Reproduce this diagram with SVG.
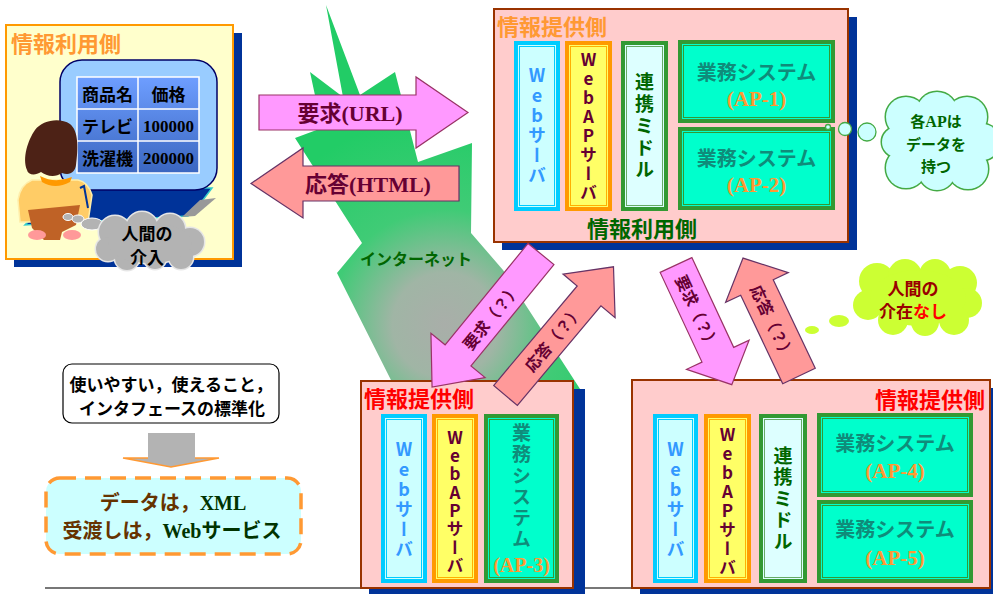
<svg xmlns="http://www.w3.org/2000/svg" width="993" height="594" viewBox="0 0 993 594">
<defs>
<style>
.jp{font-family:"Noto Sans CJK JP","Noto Sans",sans-serif;font-weight:bold}
.sf{font-family:"Liberation Serif",serif;font-weight:bold}
.vt{writing-mode:vertical-rl;text-orientation:upright;text-anchor:middle;font-family:"Noto Sans CJK JP",sans-serif;font-weight:bold}
.mid{text-anchor:middle}
.panel{fill:#FFCCCC;stroke:#993300;stroke-width:2}
.shadow{fill:#003399}
.web-o{fill:#CCFFFF;stroke:#00CCFF;stroke-width:4}
.web-i{fill:none;stroke:#00CCFF;stroke-width:1}
.ap-o{fill:#FFFF66;stroke:#FF9900;stroke-width:4}
.ap-i{fill:none;stroke:#FFB000;stroke-width:1}
.mw-o{fill:#DDFFFF;stroke:#339933;stroke-width:4}
.mw-i{fill:none;stroke:#66AA66;stroke-width:1}
.sys-o{fill:#00FFCC;stroke:#339933;stroke-width:4}
.sys-i{fill:none;stroke:#339933;stroke-width:1}
.t-web{fill:#3399FF}
.t-ap{fill:#660033}
.t-mw{fill:#006600}
.t-sys{fill:#0F8C7A}
.t-apn{fill:#FF9933}
.req{fill:#FF99FF;stroke:#993366;stroke-width:1.2}
.res{fill:#FF9999;stroke:#663366;stroke-width:1.2}
.lbl{fill:#660033}
</style>
<radialGradient id="netGrad" gradientUnits="userSpaceOnUse" cx="445" cy="325" r="210">
<stop offset="0" stop-color="#A9AEA9"/>
<stop offset="0.25" stop-color="#A0B5A5"/>
<stop offset="0.55" stop-color="#40CB76"/>
<stop offset="1" stop-color="#22CC66"/>
</radialGradient>
<linearGradient id="tblGrad" x1="0" y1="0" x2="0" y2="1">
<stop offset="0" stop-color="#6E9EFF"/>
<stop offset="1" stop-color="#3A66C0"/>
</linearGradient>
<g id="cloudData">
<circle cx="906" cy="117" r="20"/><circle cx="937" cy="112" r="20"/><circle cx="967" cy="117" r="20"/>
<circle cx="982" cy="142" r="18"/><circle cx="968" cy="169" r="20"/><circle cx="937" cy="172" r="18"/>
<circle cx="906" cy="168" r="20"/><circle cx="897" cy="142" r="15"/><ellipse cx="938" cy="142" rx="42" ry="38"/>
</g>
<g id="cloudNone">
<circle cx="877" cy="281" r="18"/><circle cx="905" cy="276" r="17"/><circle cx="935" cy="275" r="16"/>
<circle cx="960" cy="283" r="17"/><circle cx="967" cy="303" r="15"/><circle cx="954" cy="320" r="15"/>
<circle cx="925" cy="322" r="14"/><circle cx="893" cy="320" r="15"/><circle cx="868" cy="305" r="15"/>
<ellipse cx="918" cy="298" rx="48" ry="28"/>
</g>
<g id="cloudHuman">
<circle cx="115" cy="232" r="16"/><circle cx="142" cy="228" r="16"/><circle cx="170" cy="229" r="15"/>
<circle cx="190" cy="242" r="14"/><circle cx="181" cy="257" r="12"/><circle cx="155" cy="258" r="11"/>
<circle cx="127" cy="258" r="12"/><circle cx="108" cy="249" r="12"/><ellipse cx="150" cy="243" rx="42" ry="20"/>
</g>
</defs>

<rect width="993" height="594" fill="#FFFFFF"/>

<!-- internet burst -->
<g id="internet">
<polygon points="326,5 360,95 395,72 418,162 472,143 471,233 503,270 582,392 397,392 337,273 362,243 295,138 322,128 310,72 343,97" fill="url(#netGrad)"/>
<text class="jp" x="360" y="265" font-size="16" fill="#006600">インターネット</text>
</g>

<line x1="45" y1="588" x2="993" y2="588" stroke="#777777" stroke-width="2"/>

<!-- user side -->
<g id="user-side">
<rect class="shadow" x="14" y="33" width="228" height="234"/>
<rect x="6" y="25" width="227" height="234" fill="#FFFFCC" stroke="#FF9900" stroke-width="2"/>
<text class="jp" x="11" y="52" font-size="22" fill="#FF9933">情報利用側</text>
<polygon points="60,188 212,188 200,204 188,216 25,225 45,205" fill="#003399" stroke="#33CCCC" stroke-width="1.5"/>
<polygon points="200,200 216,198 195,216 182,217" fill="#999999"/>
<rect x="60" y="60" width="157" height="130" rx="22" fill="#99CCFF" stroke="#000066" stroke-width="1.5"/>
<rect x="77" y="77" width="122" height="96" fill="url(#tblGrad)"/>
<g stroke="#FFFFFF" stroke-width="1.5" fill="none">
<rect x="77" y="77" width="122" height="96"/>
<line x1="77" y1="109" x2="199" y2="109"/><line x1="77" y1="141" x2="199" y2="141"/>
<line x1="138" y1="77" x2="138" y2="173"/>
</g>
<g fill="#000000" font-size="17">
<text class="jp mid" x="107.5" y="101">商品名</text>
<text class="jp mid" x="168.5" y="101">価格</text>
<text class="jp mid" x="107.5" y="133">テレビ</text>
<text class="sf mid" x="168.5" y="132">100000</text>
<text class="jp mid" x="107.5" y="165">洗濯機</text>
<text class="sf mid" x="168.5" y="164">200000</text>
</g>
<!-- seated figure -->
<path d="M32,180 Q20,185 18,200 L20,222 L88,222 L92,195 Q88,182 78,180 Z" fill="#FFCC66" stroke="#FFEEAA" stroke-width="1.5"/>
<path d="M27,170 C22,158 28,140 35,130 C42,120 60,117 70,124 C79,131 78,150 76,165 C75,172 70,176 62,173 C55,178 46,176 41,172 C35,176 28,175 27,170 Z" fill="#4D2216"/>
<path d="M40,176 Q55,184 72,177 L70,182 Q55,190 42,182 Z" fill="#FF9900"/>
<path d="M80,188 L84,186 L88,208" fill="none" stroke="#003399" stroke-width="2"/>
<polygon points="28,210 80,205 76,225 62,232 60,240 44,240 32,228" fill="#BF6226"/>
<ellipse cx="37" cy="235" rx="9" ry="5" fill="#FF9999"/>
<ellipse cx="72" cy="235" rx="9" ry="5" fill="#FF9999"/>
<!-- thought cloud -->
<g fill="#B3B3B3" stroke="#FFFFFF" stroke-width="1">
<ellipse cx="68" cy="217" rx="5" ry="3.5"/>
<ellipse cx="78" cy="219" rx="6" ry="4"/>
<ellipse cx="92" cy="224" rx="11" ry="6"/>
</g>
<use href="#cloudHuman" fill="#B3B3B3" stroke="#E6E6E6" stroke-width="3"/>
<use href="#cloudHuman" fill="#B3B3B3"/>
<text class="jp mid" x="147" y="240" font-size="17" fill="#000000">人間の</text>
<text class="jp mid" x="147" y="264" font-size="17" fill="#000000">介入</text>
</g>

<!-- provider (top) -->
<g id="provider-top">
<rect class="shadow" x="502" y="17" width="355" height="233"/>
<rect class="panel" x="494" y="9" width="354" height="233"/>
<text class="jp" x="497" y="35" font-size="22" fill="#FF9933">情報提供側</text>
<rect class="web-o" x="516" y="43" width="42" height="166"/><rect class="web-i" x="519.5" y="46.5" width="35" height="159"/>
<rect class="ap-o" x="567" y="43" width="43" height="166"/><rect class="ap-i" x="570.5" y="46.5" width="36" height="159"/>
<rect class="mw-o" x="623" y="43" width="43" height="166"/><rect class="mw-i" x="626.5" y="46.5" width="36" height="159"/>
<rect class="sys-o" x="680" y="42" width="153" height="79"/><rect class="sys-i" x="683.5" y="45.5" width="146" height="72"/>
<rect class="sys-o" x="680" y="129" width="153" height="79"/><rect class="sys-i" x="683.5" y="132.5" width="146" height="72"/>
<text class="vt t-web" x="537" y="126" font-size="18" letter-spacing="2">Webサーバ</text>
<text class="vt t-ap" x="588.5" y="127" font-size="17" letter-spacing="2">WebAPサーバ</text>
<text class="vt t-mw" x="644.5" y="127" font-size="19" letter-spacing="3">連携ミドル</text>
<text class="jp mid t-sys" x="756.5" y="80" font-size="20">業務システム</text>
<text class="sf mid t-apn" x="756.5" y="106" font-size="21">(AP-1)</text>
<text class="jp mid t-sys" x="756.5" y="166" font-size="20">業務システム</text>
<text class="sf mid t-apn" x="756.5" y="192" font-size="21">(AP-2)</text>
<text class="jp" x="587" y="237" font-size="22" fill="#006600">情報利用側</text>
</g>

<!-- provider (lower left) -->
<g id="provider-left">
<rect class="shadow" x="369" y="389" width="216" height="205"/>
<rect class="panel" x="361" y="381" width="212" height="207"/>
<text class="jp" x="364" y="407" font-size="22" fill="#FF0000">情報提供側</text>
<rect class="web-o" x="383" y="416" width="42" height="165"/><rect class="web-i" x="386.5" y="419.5" width="35" height="158"/>
<rect class="ap-o" x="434" y="416" width="42" height="165"/><rect class="ap-i" x="437.5" y="419.5" width="35" height="158"/>
<rect class="sys-o" x="486" y="416" width="71" height="165"/><rect class="sys-i" x="489.5" y="419.5" width="64" height="158"/>
<text class="vt t-web" x="404" y="500" font-size="18" letter-spacing="2">Webサーバ</text>
<text class="vt t-ap" x="455" y="502" font-size="17" letter-spacing="1.3">WebAPサーバ</text>
<text class="vt t-sys" x="521.5" y="487" font-size="19" letter-spacing="2.2">業務システム</text>
<text class="sf mid t-apn" x="521.5" y="572" font-size="20">(AP-3)</text>
</g>

<!-- provider (lower right) -->
<g id="provider-right">
<rect class="shadow" x="640" y="388" width="360" height="210"/>
<rect class="panel" x="632" y="380" width="358" height="208"/>
<text class="jp" x="985" y="408" font-size="22" fill="#FF0000" text-anchor="end">情報提供側</text>
<rect class="web-o" x="655" y="416" width="41" height="165"/><rect class="web-i" x="658.5" y="419.5" width="34" height="158"/>
<rect class="ap-o" x="706" y="416" width="43" height="165"/><rect class="ap-i" x="709.5" y="419.5" width="36" height="158"/>
<rect class="mw-o" x="761" y="416" width="44" height="165"/><rect class="mw-i" x="764.5" y="419.5" width="37" height="158"/>
<rect class="sys-o" x="819" y="415" width="152" height="80"/><rect class="sys-i" x="822.5" y="418.5" width="145" height="73"/>
<rect class="sys-o" x="819" y="502" width="152" height="79"/><rect class="sys-i" x="822.5" y="505.5" width="145" height="72"/>
<text class="vt t-web" x="675.5" y="500" font-size="18" letter-spacing="2">Webサーバ</text>
<text class="vt t-ap" x="727.5" y="502" font-size="17" letter-spacing="2">WebAPサーバ</text>
<text class="vt t-mw" x="783" y="500" font-size="19" letter-spacing="2.5">連携ミドル</text>
<text class="jp mid t-sys" x="895" y="451" font-size="20">業務システム</text>
<text class="sf mid t-apn" x="895" y="478" font-size="21">(AP-4)</text>
<text class="jp mid t-sys" x="895" y="537" font-size="20">業務システム</text>
<text class="sf mid t-apn" x="895" y="565" font-size="21">(AP-5)</text>
</g>

<!-- data ownership bubble -->
<g id="bubble-data">
<g fill="#CCFFFF" stroke="#44AA44" stroke-width="1.3">
<circle cx="828" cy="127" r="2.5"/>
<circle cx="845" cy="129" r="6.5"/>
<circle cx="867" cy="132" r="9"/>
</g>
<use href="#cloudData" fill="#CCFFFF" stroke="#44AA44" stroke-width="3"/>
<use href="#cloudData" fill="#CCFFFF"/>
<g class="jp mid" font-size="15" fill="#006600">
<text x="936" y="127"><tspan>各</tspan><tspan class="sf" font-size="16">AP</tspan><tspan>は</tspan></text>
<text x="936" y="150">データを</text>
<text x="936" y="172">持つ</text>
</g>
</g>

<!-- no-human bubble -->
<g id="bubble-no-human">
<g fill="#CCFF33">
<ellipse cx="788" cy="336" rx="3" ry="2"/>
<ellipse cx="812" cy="330" rx="7" ry="4"/>
<ellipse cx="839" cy="321" rx="10" ry="6"/>
</g>
<use href="#cloudNone" fill="#CCFF33"/>
<text class="jp mid" x="913" y="295" font-size="17" fill="#990000">人間の</text>
<text class="jp mid" x="913" y="318" font-size="17" fill="#990000">介在<tspan fill="#FF0000">なし</tspan></text>
</g>

<!-- standardisation note -->
<g id="note-standard">
<rect x="63" y="364" width="216" height="59" rx="9" fill="#FFFFFF" stroke="#000000" stroke-width="1.2"/>
<text class="jp mid" x="171" y="391" font-size="17" fill="#000000">使いやすい，使えること，</text>
<text class="jp mid" x="172" y="415" font-size="17" fill="#000000">インタフェースの標準化</text>
</g>

<!-- XML / Web services note -->
<g id="note-xml">
<rect x="46" y="478" width="255" height="76" rx="14" fill="#CCFFFF" stroke="#FF9933" stroke-width="3.5" stroke-dasharray="16 9"/>
<text class="jp mid" x="173" y="510" font-size="20" fill="#663300">データは，<tspan class="sf" fill="#003300">XML</tspan></text>
<text class="jp mid" x="172" y="538" font-size="20" fill="#663300">受渡しは，<tspan class="sf" fill="#003300">Web</tspan><tspan fill="#003300">サービス</tspan></text>
</g>

<!-- connectors -->
<g id="connectors">
<polygon points="148,433 195,433 195,458 219,458 171,467 123,458 148,458" fill="#B3B3B3"/>
<polyline points="148,458 123,458 171,467 219,458 195,458" fill="none" stroke="#FF9933" stroke-width="1.5"/>

<polygon class="req" points="259,95 416,95 416,77 468,112.5 416,148 416,130 259,130"/>
<text class="jp lbl mid" x="350" y="121" font-size="22">要求<tspan class="sf">(URL)</tspan></text>
<polygon class="res" points="459,166 303,166 303,148 251,183.5 303,218 303,201 459,201"/>
<text class="jp lbl mid" x="368" y="192" font-size="22">応答<tspan class="sf">(HTML)</tspan></text>

<path class="req" d="M0,-16.7 L131,-16.7 L131,-35 L172,0 L131,35 L131,16.7 L0,16.7 Z" transform="translate(541,254) rotate(129.3)"/>
<text class="jp lbl mid" font-size="16" dominant-baseline="central" transform="translate(491,316) rotate(-50.7)">要求（？）</text>
<path class="res" d="M0,-15.5 L130,-15.5 L130,-34 L168,0 L130,34 L130,15.5 L0,15.5 Z" transform="translate(505.5,395.5) rotate(-50)"/>
<text class="jp lbl mid" font-size="16" dominant-baseline="central" transform="translate(553,338) rotate(-50)">応答（？）</text>

<path class="req" d="M0,-17.5 L99,-17.5 L99,-34.5 L132,0 L99,34.5 L99,17.5 L0,17.5 Z" transform="translate(676,265) rotate(65)"/>
<text class="jp lbl mid" font-size="16" dominant-baseline="central" transform="translate(698,312) rotate(65)">要求（？）</text>
<path class="res" d="M0,-18 L98,-18 L98,-34.7 L130.5,0 L98,34.7 L98,18 L0,18 Z" transform="translate(799,376) rotate(-115.4)"/>
<text class="jp lbl mid" font-size="16" dominant-baseline="central" transform="translate(773,322) rotate(64.6)">応答（？）</text>
</g>
</svg>
